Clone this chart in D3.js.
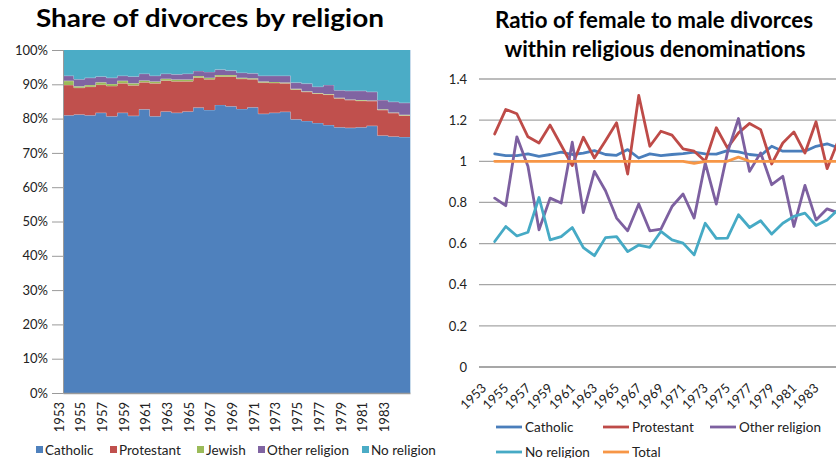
<!DOCTYPE html>
<html><head><meta charset="utf-8">
<script src="https://cdn.jsdelivr.net/npm/d3@7"></script>
<style>
body{margin:0;background:#fff;}
svg{display:block;font-family:Lato,"Open Sans",sans-serif;}
</style></head>
<body><svg id="c" width="836" height="458"></svg>
<script>
const years = d3.range(1953, 1985);
const shareSeries = ["Catholic","Protestant","Jewish","Other religion","No religion"];
const shareColors = ["#4F81BD","#C0504D","#9BBB59","#8064A2","#4BACC6"];
// shares (%) by year 1953..1984
const catholic   = [81.0,81.2,81.0,81.7,80.7,81.7,80.8,82.7,80.7,82.1,81.7,82.1,83.2,82.5,84.0,83.6,82.8,83.3,81.4,81.7,82.0,79.8,79.3,78.7,78.1,77.5,77.3,77.5,77.9,75.1,74.8,74.6];
const protestant = [8.8,7.8,8.3,8.2,8.8,8.6,8.9,7.9,9.6,9.0,9.2,8.8,8.8,9.0,8.3,8.7,8.8,8.2,9.1,8.7,8.3,8.7,8.5,8.6,8.9,8.4,8.1,7.7,7.2,7.4,6.8,6.3];
const jewish     = [1.2,0.4,0.5,0.7,0.6,0.7,0.6,0.5,0.5,0.5,0.5,0.5,0.4,0.4,0.4,0.4,0.3,0.3,0.3,0.3,0.2,0.2,0.2,0.2,0.2,0.2,0.2,0.2,0.2,0.2,0.2,0.2];
const otherRel   = [1.5,2.1,2.1,1.7,1.8,1.5,2.0,2.0,1.7,1.5,1.5,1.7,1.5,1.7,1.6,1.3,1.5,1.4,1.7,1.8,2.0,1.8,2.2,1.8,2.6,2.2,2.5,2.7,2.5,2.7,3.1,3.5];
const noRel      = [7.5,8.5,8.1,7.7,8.1,7.5,7.7,6.9,7.5,6.9,7.1,6.9,6.1,6.4,5.7,6.0,6.6,6.8,7.5,7.5,7.5,9.5,9.8,10.7,10.2,11.7,11.9,11.9,12.2,14.6,15.1,15.4];
const shareTicks = [0,0.1,0.2,0.3,0.4,0.5,0.6,0.7,0.8,0.9,1.0];

// ratio female/male
const ratioSeries = ["Catholic","Protestant","Other religion","No religion","Total"];
const ratioColors = ["#4A7EBB","#BE4B48","#7D60A0","#46AAC5","#F79646"];
const rCatholic   = [1.036,1.028,1.028,1.036,1.024,1.033,1.044,1.033,1.040,1.052,1.033,1.029,1.057,1.016,1.036,1.028,1.033,1.037,1.044,1.036,1.035,1.052,1.046,1.033,1.028,1.073,1.049,1.049,1.049,1.073,1.085,1.065];
const rProtestant = [1.133,1.252,1.231,1.119,1.089,1.176,1.078,0.979,1.117,1.016,1.100,1.187,0.938,1.320,1.073,1.146,1.127,1.060,1.049,1.000,1.163,1.065,1.138,1.184,1.154,0.987,1.089,1.143,1.040,1.192,0.964,1.100];
const rOther      = [0.821,0.784,1.119,0.976,0.667,0.821,0.797,1.093,0.751,0.951,0.857,0.724,0.662,0.792,0.662,0.670,0.780,0.841,0.724,0.992,0.792,1.041,1.208,0.951,1.041,0.886,0.927,0.683,0.883,0.715,0.769,0.750];
const rNone       = [0.610,0.683,0.637,0.655,0.824,0.618,0.634,0.678,0.580,0.541,0.629,0.634,0.561,0.593,0.582,0.659,0.618,0.602,0.545,0.699,0.625,0.626,0.740,0.678,0.711,0.646,0.699,0.732,0.748,0.688,0.715,0.765];
const rTotal      = [1.0,1.0,1.0,1.0,1.0,1.0,1.0,1.0,1.0,1.0,1.0,1.0,1.0,1.0,1.0,1.0,1.0,1.0,0.99,1.0,1.0,1.0,1.02,1.0,1.0,1.0,1.0,1.0,1.0,1.0,1.0,1.0];
const ratioTicks = [0,0.2,0.4,0.6,0.8,1.0,1.2,1.4];
const yearLabels = years.filter((y,i)=>i%2===0);

const svg = d3.select("#c");
const gray = "#9a9a9a";

// ---------- Left chart ----------
const shareData = years.map((y,i)=>({year:y,"Catholic":catholic[i]/100,"Protestant":protestant[i]/100,"Jewish":jewish[i]/100,"Other religion":otherRel[i]/100,"No religion":noRel[i]/100}));
const stack = d3.stack().keys(shareSeries);
const layers = stack(shareData);
const xL = d3.scaleBand().domain(years).range([63,410]).padding(0);
const yL = d3.scaleLinear().domain([0,1]).range([393,50]);

svg.append("text").attr("x",210).attr("y",27).attr("text-anchor","middle")
  .attr("font-size",24.5).attr("font-weight","bold").attr("fill","#000")
  .attr("textLength",348).attr("lengthAdjust","spacingAndGlyphs").text("Share of divorces by religion");

const areaL = d3.area().curve(d3.curveStepAfter)
  .x(d=>d.x).y0(d=>d.y0).y1(d=>d.y1);
const lineL = d3.line().curve(d3.curveStepAfter).x(d=>d.x).y(d=>d.y1);
layers.forEach((layer,li)=>{
  const pts = layer.map(d=>({x:xL(d.data.year),y0:yL(Math.min(1,d[0])),y1:yL(Math.min(1,d[1]))}));
  const last = layer[layer.length-1];
  pts.push({x:xL(last.data.year)+xL.bandwidth(),y0:yL(Math.min(1,last[0])),y1:yL(Math.min(1,last[1]))});
  svg.append("path").attr("d",areaL(pts)).attr("fill",shareColors[li]);
  if(li<4) svg.append("path").attr("d",lineL(pts)).attr("fill","none").attr("stroke","rgba(255,255,255,0.35)").attr("stroke-width",1);
});
svg.append("line").attr("x1",410.5).attr("x2",410.5).attr("y1",50).attr("y2",393).attr("stroke","#c9dcec").attr("stroke-width",1);

const yAxisL = d3.axisLeft(yL).tickValues(shareTicks).tickFormat(d3.format(".0%")).tickSize(11).tickPadding(4);
const gyL = svg.append("g").attr("transform","translate(63,0)").call(yAxisL);
gyL.select(".domain").attr("stroke",gray).attr("stroke-width",1);
gyL.selectAll(".tick line").attr("stroke",gray);
gyL.selectAll("text").attr("font-size",13).attr("fill","#222").attr("font-family","Lato,sans-serif");

const xAxisL = d3.axisBottom(xL).tickValues(yearLabels).tickSize(0).tickSizeOuter(0);
const gxL = svg.append("g").attr("transform","translate(0,393)").call(xAxisL);
gxL.select(".domain").attr("stroke",gray).attr("stroke-width",1.5);
gxL.selectAll(".tick text").attr("font-size",13).attr("fill","#222").attr("font-family","Lato,sans-serif")
  .attr("text-anchor","end").attr("transform",`translate(${-(xL.bandwidth()/2)-4},9) rotate(-90)`)
  .attr("x",0).attr("y",0).attr("dy","0.35em");

// legend left
const legL = svg.append("g").attr("font-size",13.5).attr("fill","#222");
const legLx = [36,110,197,258,362];
shareSeries.forEach((s,i)=>{
  legL.append("rect").attr("x",legLx[i]).attr("y",446).attr("width",7).attr("height",7).attr("fill",shareColors[i]);
  legL.append("text").attr("x",legLx[i]+9).attr("y",454.5).attr("fill","#222").text(s);
});

// ---------- Right chart ----------
const xR = d3.scaleLinear().domain([1953,1984]).range([494.7,838.2]);
const yR = d3.scaleLinear().domain([0,1.4]).range([367,79]);

const tR = svg.append("text").attr("text-anchor","middle").attr("font-size",22.5).attr("font-weight","bold").attr("fill","#000");
tR.append("tspan").attr("x",654).attr("y",28).attr("textLength",318).attr("lengthAdjust","spacingAndGlyphs").text("Ratio of female to male divorces");
tR.append("tspan").attr("x",655).attr("y",57).attr("textLength",301).attr("lengthAdjust","spacingAndGlyphs").text("within religious denominations");

const gridR = svg.append("g");
gridR.selectAll("line").data(ratioTicks).join("line")
  .attr("x1",479).attr("x2",850).attr("y1",d=>yR(d)).attr("y2",d=>yR(d))
  .attr("stroke",d=>d===0?"#8a8a8a":"#a6a6a6").attr("stroke-width",1.3);
const yAxisR = d3.axisLeft(yR).tickValues(ratioTicks).tickFormat(d=>d===0?"0":d===1?"1":d3.format(".1f")(d)).tickSize(0).tickPadding(12);
const gyR = svg.append("g").attr("transform","translate(479,0)").call(yAxisR);
gyR.select(".domain").remove();
gyR.selectAll("text").attr("font-size",13).attr("fill","#222").attr("font-family","Lato,sans-serif");

const xAxisR = d3.axisBottom(xR).tickValues(yearLabels).tickFormat(d3.format("d")).tickSize(0);
const gxR = svg.append("g").attr("transform","translate(0,367)").call(xAxisR);
gxR.select(".domain").remove();
gxR.selectAll(".tick text").attr("font-size",13).attr("fill","#222").attr("font-family","Lato,sans-serif")
  .attr("text-anchor","end").attr("x",0).attr("y",0).attr("dy",0)
  .attr("transform","translate(-8,22) rotate(-45)");

const ratioData = [rCatholic,rProtestant,rOther,rNone,rTotal];
const lineR = d3.line().x((d,i)=>xR(years[i])).y(d=>yR(d));
[0,1,2,3,4].forEach(k=>{
  svg.append("path").attr("d",lineR(ratioData[k])).attr("fill","none")
    .attr("stroke",ratioColors[k]).attr("stroke-width",2.8).attr("stroke-linejoin","round").attr("stroke-linecap","round");
});

// legend right
const legR = svg.append("g").attr("font-size",13.5);
const legRpos = [[496,427],[603,427],[710,427],[496,452],[603,452]];
ratioSeries.forEach((s,i)=>{
  const [lx,ly] = legRpos[i];
  legR.append("line").attr("x1",lx).attr("x2",lx+26).attr("y1",ly).attr("y2",ly).attr("stroke",ratioColors[i]).attr("stroke-width",2.8);
  legR.append("text").attr("x",lx+29).attr("y",ly+4.5).attr("fill","#222").text(s);
});
</script></body></html>
